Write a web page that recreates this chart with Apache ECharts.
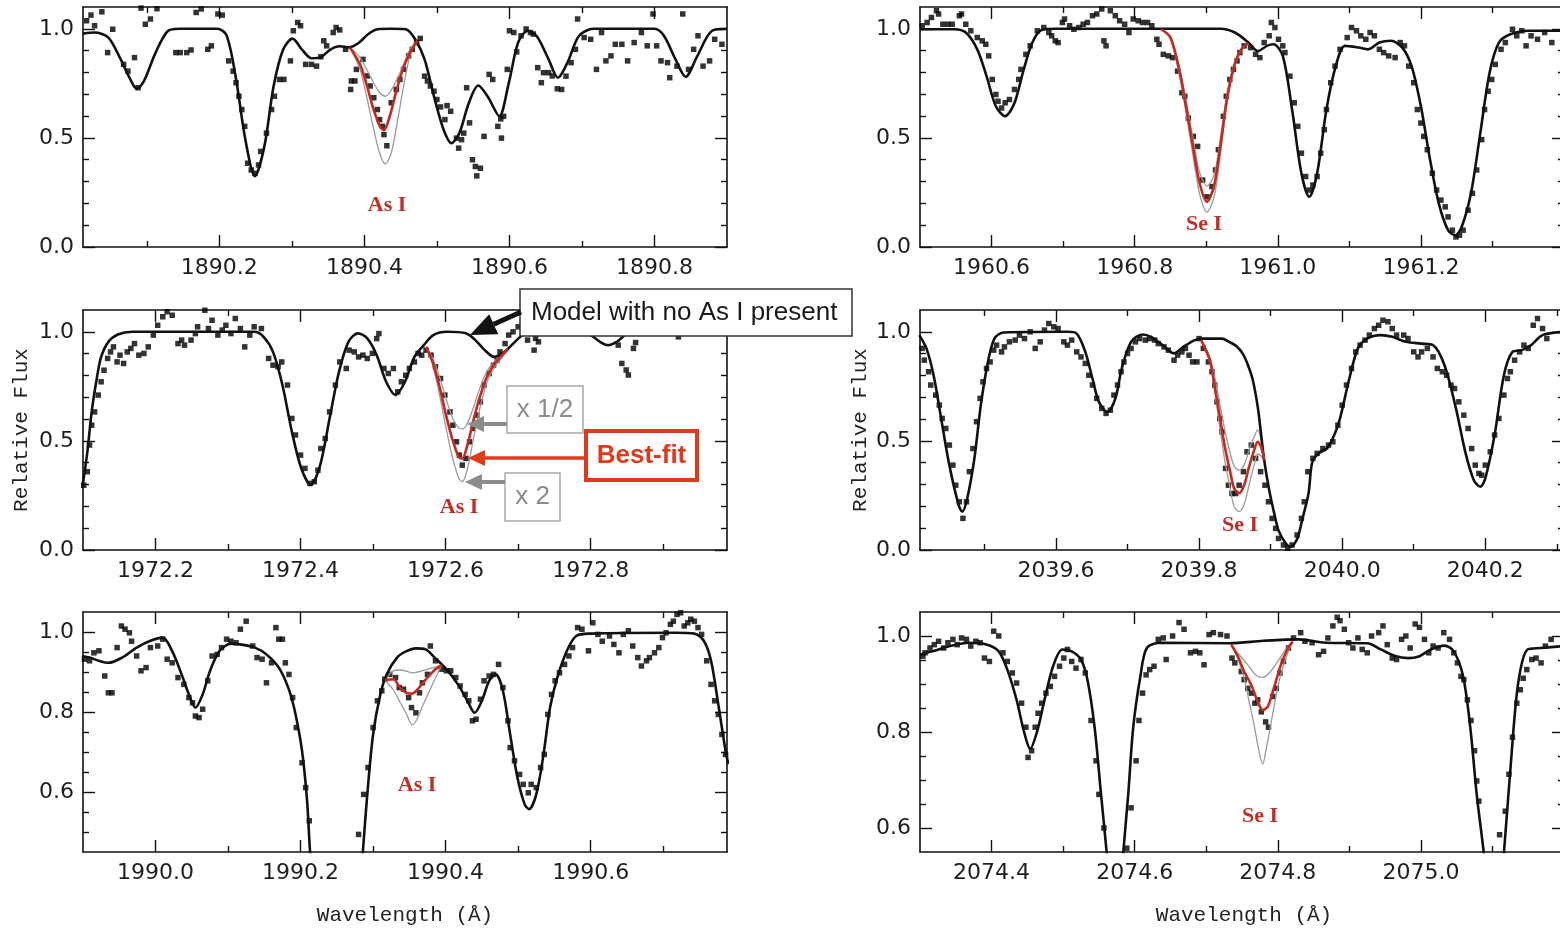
<!DOCTYPE html>
<html>
<head>
<meta charset="utf-8">
<script src="https://cdn.jsdelivr.net/npm/echarts@6/dist/echarts.min.js"></script>
<style>
html,body{margin:0;padding:0;background:#fff;}
#chart{width:1560px;height:929px;}
</style>
</head>
<body>
<div id="chart"></div>
<script>
// ---- panel 1 : As I 1890.43 ----
var p1Obs=[[1890.017,1.037],[1890.023,1.063],[1890.028,1.014],[1890.038,1.078],[1890.046,0.891],[1890.053,0.998],[1890.068,0.837],[1890.074,0.806],[1890.083,0.868],[1890.088,0.730],[1890.092,1.095],[1890.098,1.021],[1890.105,1.045],[1890.114,1.092],[1890.140,0.891],[1890.146,0.891],[1890.155,0.891],[1890.161,0.903],[1890.168,1.075],[1890.175,1.091],[1890.184,0.906],[1890.189,0.922],[1890.198,1.068],[1890.204,1.063],[1890.213,0.853],[1890.219,0.806],[1890.223,0.753],[1890.227,0.691],[1890.231,0.630],[1890.235,0.553],[1890.239,0.384],[1890.244,0.353],[1890.249,0.338],[1890.254,0.376],[1890.257,0.438],[1890.265,0.522],[1890.272,0.630],[1890.276,0.691],[1890.283,0.768],[1890.289,0.768],[1890.298,0.853],[1890.302,0.991],[1890.308,1.029],[1890.312,1.014],[1890.319,0.837],[1890.327,0.837],[1890.334,0.829],[1890.340,0.872],[1890.344,0.945],[1890.348,0.922],[1890.357,0.983],[1890.361,1.006],[1890.366,0.995],[1890.374,0.906],[1890.382,0.761],[1890.387,0.761],[1890.381,0.722],[1890.389,0.814],[1890.398,0.860],[1890.404,0.784],[1890.408,0.738],[1890.413,0.684],[1890.418,0.630],[1890.421,0.584],[1890.425,0.553],[1890.427,0.515],[1890.431,0.464],[1890.437,0.661],[1890.444,0.722],[1890.449,0.768],[1890.454,0.814],[1890.461,0.876],[1890.466,0.906],[1890.472,0.937],[1890.477,0.956],[1890.483,0.783],[1890.487,0.761],[1890.491,0.738],[1890.496,0.714],[1890.500,0.676],[1890.505,0.642],[1890.511,0.584],[1890.514,0.648],[1890.519,0.622],[1890.527,0.499],[1890.530,0.453],[1890.534,0.492],[1890.537,0.522],[1890.541,0.730],[1890.545,0.569],[1890.549,0.400],[1890.553,0.369],[1890.555,0.326],[1890.560,0.361],[1890.565,0.507],[1890.572,0.791],[1890.577,0.768],[1890.584,0.553],[1890.588,0.587],[1890.589,0.499],[1890.592,0.599],[1890.597,0.814],[1890.600,0.991],[1890.606,0.983],[1890.610,0.894],[1890.616,0.968],[1890.623,0.999],[1890.629,0.983],[1890.633,0.976],[1890.639,0.822],[1890.644,0.753],[1890.647,0.799],[1890.654,0.799],[1890.659,0.784],[1890.666,0.725],[1890.672,0.722],[1890.678,0.783],[1890.685,0.845],[1890.691,0.906],[1890.694,1.045],[1890.703,0.960],[1890.712,0.952],[1890.720,0.814],[1890.727,0.983],[1890.733,0.853],[1890.740,0.876],[1890.746,0.929],[1890.755,0.929],[1890.763,0.853],[1890.772,0.937],[1890.782,0.983],[1890.790,0.922],[1890.798,1.068],[1890.803,0.922],[1890.809,0.853],[1890.818,0.845],[1890.821,0.776],[1890.831,0.829],[1890.839,1.068],[1890.847,0.814],[1890.854,0.906],[1890.860,0.968],[1890.867,0.829],[1890.876,0.853],[1890.883,0.952],[1890.893,0.929]];
var p1Model=[[1890.012,0.978],[1890.028,0.983],[1890.047,0.96],[1890.064,0.86],[1890.077,0.77],[1890.086,0.725],[1890.096,0.76],[1890.112,0.89],[1890.129,0.99],[1890.145,1.0],[1890.197,1.0],[1890.210,0.97],[1890.223,0.77],[1890.236,0.49],[1890.249,0.325],[1890.262,0.46],[1890.275,0.74],[1890.288,0.905],[1890.301,0.955],[1890.314,0.905],[1890.327,0.865],[1890.340,0.87],[1890.353,0.905],[1890.366,0.92],[1890.379,0.915],[1890.392,0.935],[1890.405,0.975],[1890.418,0.998],[1890.437,1.0],[1890.457,0.998],[1890.470,0.952],[1890.483,0.86],[1890.496,0.69],[1890.509,0.54],[1890.520,0.476],[1890.531,0.522],[1890.544,0.66],[1890.557,0.74],[1890.570,0.69],[1890.586,0.6],[1890.599,0.75],[1890.612,0.937],[1890.625,0.99],[1890.638,0.965],[1890.654,0.86],[1890.667,0.776],[1890.680,0.845],[1890.696,0.968],[1890.716,1.0],[1890.800,1.0],[1890.813,0.968],[1890.829,0.86],[1890.843,0.78],[1890.859,0.875],[1890.879,0.99],[1890.900,1.0]];
var p1Fit=[[1890.380,0.915],[1890.394,0.837],[1890.403,0.745],[1890.412,0.638],[1890.421,0.556],[1890.427,0.535],[1890.435,0.60],[1890.444,0.714],[1890.453,0.814],[1890.463,0.891],[1890.473,0.945]];
var p1Half=[[1890.380,0.915],[1890.394,0.868],[1890.408,0.783],[1890.421,0.707],[1890.429,0.691],[1890.439,0.73],[1890.451,0.814],[1890.463,0.906],[1890.473,0.945]];
var p1Double=[[1890.380,0.915],[1890.394,0.814],[1890.403,0.691],[1890.412,0.553],[1890.421,0.43],[1890.429,0.381],[1890.437,0.43],[1890.446,0.584],[1890.455,0.753],[1890.464,0.891],[1890.473,0.945]];
var p1XMajor=[1890.2,1890.4,1890.6,1890.8];
var p1XMinor=[1890.1,1890.3,1890.5,1890.7];

// ---- panel 2 : Se I 1960.90 ----
var p2Obs=[[1960.503,1.014],[1960.510,1.029],[1960.516,1.052],[1960.523,1.083],[1960.526,1.068],[1960.532,1.021],[1960.539,1.021],[1960.545,1.021],[1960.555,1.060],[1960.558,1.068],[1960.564,1.021],[1960.571,0.991],[1960.580,0.960],[1960.587,0.945],[1960.592,0.929],[1960.596,0.876],[1960.601,0.768],[1960.606,0.699],[1960.609,0.668],[1960.614,0.637],[1960.619,0.661],[1960.625,0.676],[1960.632,0.722],[1960.638,0.768],[1960.641,0.814],[1960.648,0.883],[1960.654,0.922],[1960.664,0.991],[1960.673,1.006],[1960.680,0.983],[1960.684,0.968],[1960.689,0.945],[1960.693,0.937],[1960.699,1.029],[1960.702,1.045],[1960.709,1.014],[1960.715,0.998],[1960.722,1.006],[1960.728,1.021],[1960.734,1.029],[1960.741,1.060],[1960.747,1.068],[1960.754,1.091],[1960.757,0.945],[1960.760,0.922],[1960.766,1.083],[1960.773,1.060],[1960.779,1.037],[1960.786,1.021],[1960.792,0.983],[1960.798,1.045],[1960.805,1.037],[1960.811,1.029],[1960.818,1.029],[1960.824,1.014],[1960.831,0.952],[1960.834,0.929],[1960.840,0.883],[1960.847,0.876],[1960.853,0.868],[1960.860,0.806],[1960.866,0.707],[1960.870,0.691],[1960.875,0.591],[1960.882,0.507],[1960.888,0.461],[1960.895,0.307],[1960.901,0.230],[1960.908,0.277],[1960.913,0.353],[1960.917,0.446],[1960.924,0.599],[1960.928,0.691],[1960.933,0.768],[1960.938,0.814],[1960.943,0.853],[1960.947,0.891],[1960.953,0.922],[1960.962,0.914],[1960.969,0.883],[1960.975,0.868],[1960.981,0.937],[1960.988,0.968],[1960.991,1.029],[1960.996,1.006],[1961.001,0.952],[1961.007,0.922],[1961.010,0.891],[1961.017,0.783],[1961.023,0.661],[1961.028,0.553],[1961.033,0.430],[1961.039,0.323],[1961.044,0.261],[1961.049,0.284],[1961.055,0.323],[1961.060,0.430],[1961.065,0.538],[1961.068,0.630],[1961.074,0.753],[1961.080,0.829],[1961.087,0.906],[1961.097,0.960],[1961.103,1.006],[1961.110,0.991],[1961.116,0.968],[1961.123,0.952],[1961.129,0.983],[1961.135,0.968],[1961.142,0.906],[1961.148,0.891],[1961.155,0.876],[1961.164,0.868],[1961.171,0.937],[1961.177,0.922],[1961.183,0.829],[1961.190,0.753],[1961.195,0.630],[1961.200,0.568],[1961.204,0.507],[1961.209,0.446],[1961.216,0.338],[1961.222,0.261],[1961.228,0.215],[1961.234,0.184],[1961.238,0.138],[1961.244,0.077],[1961.249,0.046],[1961.254,0.054],[1961.259,0.077],[1961.266,0.169],[1961.272,0.246],[1961.278,0.353],[1961.285,0.492],[1961.289,0.630],[1961.294,0.714],[1961.299,0.768],[1961.304,0.837],[1961.312,0.906],[1961.318,0.937],[1961.328,0.998],[1961.334,0.968],[1961.341,0.991],[1961.347,0.922],[1961.354,0.968],[1961.363,0.952],[1961.373,0.983],[1961.383,0.937]];
var p2Model=[[1960.500,0.998],[1960.548,0.998],[1960.564,0.983],[1960.580,0.906],[1960.593,0.783],[1960.606,0.645],[1960.619,0.600],[1960.632,0.660],[1960.645,0.814],[1960.657,0.937],[1960.670,0.995],[1960.690,1.0],[1960.920,1.0],[1960.940,0.983],[1960.959,0.937],[1960.972,0.898],[1960.985,0.922],[1960.994,0.929],[1961.007,0.876],[1961.020,0.630],[1961.033,0.338],[1961.044,0.230],[1961.055,0.338],[1961.068,0.630],[1961.081,0.829],[1961.094,0.922],[1961.113,0.914],[1961.126,0.906],[1961.142,0.937],[1961.158,0.945],[1961.174,0.914],[1961.187,0.829],[1961.200,0.645],[1961.212,0.415],[1961.225,0.200],[1961.238,0.077],[1961.248,0.054],[1961.257,0.092],[1961.270,0.246],[1961.283,0.522],[1961.296,0.799],[1961.309,0.937],[1961.325,0.975],[1961.350,0.991],[1961.400,0.991]];
var p2Fit=[[1960.837,0.998],[1960.850,0.96],[1960.863,0.80],[1960.872,0.64],[1960.882,0.45],[1960.891,0.29],[1960.901,0.207],[1960.911,0.28],[1960.920,0.47],[1960.930,0.70],[1960.940,0.84],[1960.949,0.905],[1960.959,0.935]];
var p2Half=[[1960.837,0.998],[1960.850,0.965],[1960.863,0.82],[1960.872,0.67],[1960.882,0.49],[1960.891,0.34],[1960.901,0.28],[1960.911,0.33],[1960.920,0.50],[1960.930,0.72],[1960.940,0.85],[1960.949,0.91],[1960.959,0.935]];
var p2Double=[[1960.837,0.998],[1960.850,0.955],[1960.863,0.78],[1960.872,0.61],[1960.882,0.41],[1960.891,0.24],[1960.901,0.16],[1960.911,0.23],[1960.920,0.43],[1960.930,0.68],[1960.940,0.83],[1960.949,0.90],[1960.959,0.935]];
var p2XMajor=[1960.6,1960.8,1961.0,1961.2];
var p2XMinor=[1960.7,1960.9,1961.1,1961.3];

// ---- panel 3 : As I 1972.62 ----
var p3Obs=[[1972.101,0.297],[1972.106,0.359],[1972.109,0.481],[1972.112,0.572],[1972.116,0.633],[1972.121,0.710],[1972.125,0.771],[1972.129,0.824],[1972.134,0.878],[1972.138,0.908],[1972.142,0.931],[1972.147,0.862],[1972.151,0.893],[1972.156,0.855],[1972.161,0.908],[1972.166,0.924],[1972.171,0.946],[1972.177,0.893],[1972.184,0.901],[1972.190,0.931],[1972.197,0.985],[1972.203,1.030],[1972.210,1.069],[1972.216,1.092],[1972.223,1.076],[1972.231,0.946],[1972.236,0.962],[1972.240,0.939],[1972.249,0.962],[1972.255,0.992],[1972.258,1.023],[1972.268,1.099],[1972.273,1.015],[1972.278,1.053],[1972.286,0.985],[1972.292,1.008],[1972.297,1.030],[1972.304,0.992],[1972.310,1.061],[1972.317,1.015],[1972.323,0.931],[1972.330,0.985],[1972.336,1.023],[1972.346,1.015],[1972.356,0.878],[1972.362,0.847],[1972.369,0.840],[1972.374,0.862],[1972.382,0.756],[1972.388,0.603],[1972.393,0.527],[1972.400,0.435],[1972.406,0.374],[1972.413,0.305],[1972.419,0.313],[1972.424,0.366],[1972.428,0.465],[1972.434,0.511],[1972.440,0.633],[1972.448,0.756],[1972.454,0.862],[1972.463,0.832],[1972.467,0.916],[1972.474,0.908],[1972.480,0.885],[1972.486,0.893],[1972.492,0.878],[1972.499,0.901],[1972.505,0.969],[1972.508,0.992],[1972.515,0.832],[1972.521,0.809],[1972.528,0.832],[1972.534,0.725],[1972.539,0.771],[1972.545,0.801],[1972.550,0.832],[1972.557,0.862],[1972.562,0.901],[1972.567,0.893],[1972.573,0.916],[1972.580,0.893],[1972.586,0.840],[1972.593,0.786],[1972.599,0.710],[1972.606,0.633],[1972.610,0.572],[1972.615,0.496],[1972.619,0.435],[1972.623,0.389],[1972.628,0.420],[1972.633,0.496],[1972.638,0.557],[1972.643,0.618],[1972.648,0.679],[1972.653,0.756],[1972.660,0.809],[1972.666,0.847],[1972.671,0.870],[1972.675,0.908],[1972.682,0.946],[1972.687,0.985],[1972.693,1.000],[1972.700,1.023],[1972.706,1.030],[1972.713,0.962],[1972.722,0.916],[1972.724,0.970],[1972.728,0.954],[1972.838,0.939],[1972.843,0.855],[1972.849,0.825],[1972.852,0.802],[1972.859,0.924],[1972.862,0.951],[1972.921,0.977]];
var p3Model=[[1972.099,0.283],[1972.106,0.45],[1972.112,0.634],[1972.119,0.786],[1972.125,0.885],[1972.135,0.954],[1972.148,0.988],[1972.168,1.0],[1972.336,1.0],[1972.349,0.977],[1972.362,0.908],[1972.375,0.756],[1972.388,0.542],[1972.401,0.374],[1972.414,0.298],[1972.427,0.389],[1972.440,0.603],[1972.453,0.817],[1972.466,0.954],[1972.479,0.993],[1972.492,0.97],[1972.505,0.893],[1972.518,0.771],[1972.531,0.710],[1972.544,0.771],[1972.557,0.885],[1972.570,0.939],[1972.583,0.985],[1972.602,1.0],[1972.628,0.993],[1972.641,0.962],[1972.654,0.916],[1972.667,0.885],[1972.680,0.905],[1972.693,0.945],[1972.706,0.985],[1972.719,0.997],[1972.784,1.0],[1972.800,0.985],[1972.813,0.954],[1972.824,0.939],[1972.836,0.954],[1972.849,0.988],[1972.862,1.0],[1972.990,1.0]];
var p3Fit=[[1972.573,0.931],[1972.582,0.863],[1972.591,0.756],[1972.600,0.626],[1972.609,0.511],[1972.618,0.427],[1972.623,0.420],[1972.630,0.481],[1972.639,0.603],[1972.648,0.710],[1972.657,0.794],[1972.666,0.847],[1972.676,0.886],[1972.686,0.92]];
var p3Half=[[1972.573,0.931],[1972.582,0.88],[1972.591,0.80],[1972.600,0.70],[1972.609,0.61],[1972.618,0.56],[1972.623,0.555],[1972.630,0.58],[1972.639,0.66],[1972.648,0.75],[1972.657,0.82],[1972.666,0.86],[1972.676,0.89],[1972.686,0.92]];
var p3Double=[[1972.573,0.931],[1972.582,0.85],[1972.591,0.72],[1972.600,0.57],[1972.609,0.43],[1972.618,0.33],[1972.623,0.313],[1972.630,0.37],[1972.639,0.52],[1972.648,0.66],[1972.657,0.77],[1972.666,0.83],[1972.676,0.875],[1972.686,0.92]];
var p3XMajor=[1972.2,1972.4,1972.6,1972.8];
var p3XMinor=[1972.3,1972.5,1972.7,1972.9];

// ---- panel 4 : Se I 2039.85 ----
var p4Obs=[[2039.413,0.924],[2039.416,0.870],[2039.422,0.817],[2039.425,0.756],[2039.432,0.710],[2039.437,0.664],[2039.441,0.603],[2039.446,0.557],[2039.451,0.481],[2039.456,0.389],[2039.460,0.297],[2039.465,0.221],[2039.470,0.145],[2039.475,0.221],[2039.479,0.359],[2039.484,0.465],[2039.489,0.588],[2039.494,0.695],[2039.498,0.771],[2039.503,0.832],[2039.508,0.862],[2039.513,0.916],[2039.517,0.939],[2039.524,0.908],[2039.528,0.931],[2039.535,0.954],[2039.543,0.962],[2039.549,0.985],[2039.556,0.969],[2039.564,1.000],[2039.571,0.924],[2039.578,0.954],[2039.584,1.008],[2039.590,1.038],[2039.597,1.023],[2039.603,1.015],[2039.611,0.954],[2039.616,0.939],[2039.622,0.962],[2039.629,0.908],[2039.635,0.885],[2039.641,0.855],[2039.646,0.801],[2039.651,0.756],[2039.657,0.695],[2039.664,0.649],[2039.670,0.626],[2039.676,0.641],[2039.681,0.710],[2039.686,0.756],[2039.691,0.817],[2039.695,0.862],[2039.700,0.901],[2039.705,0.924],[2039.711,0.954],[2039.717,0.969],[2039.725,0.962],[2039.731,0.969],[2039.738,0.962],[2039.743,0.946],[2039.751,0.931],[2039.757,0.916],[2039.765,0.870],[2039.770,0.893],[2039.776,0.908],[2039.781,0.924],[2039.786,0.893],[2039.791,0.862],[2039.797,0.862],[2039.800,0.969],[2039.806,0.924],[2039.813,0.862],[2039.818,0.817],[2039.822,0.756],[2039.825,0.679],[2039.829,0.603],[2039.832,0.542],[2039.837,0.374],[2039.841,0.297],[2039.846,0.259],[2039.851,0.259],[2039.856,0.297],[2039.862,0.359],[2039.867,0.450],[2039.873,0.481],[2039.879,0.420],[2039.886,0.359],[2039.892,0.297],[2039.897,0.221],[2039.902,0.145],[2039.907,0.099],[2039.911,0.053],[2039.918,0.023],[2039.924,0.008],[2039.930,0.023],[2039.937,0.069],[2039.943,0.145],[2039.947,0.221],[2039.952,0.359],[2039.959,0.420],[2039.965,0.443],[2039.973,0.465],[2039.981,0.481],[2039.987,0.496],[2039.994,0.572],[2040.000,0.664],[2040.006,0.756],[2040.013,0.832],[2040.019,0.908],[2040.025,0.939],[2040.032,0.962],[2040.038,0.985],[2040.045,1.015],[2040.051,1.030],[2040.057,1.053],[2040.064,1.046],[2040.070,1.015],[2040.076,0.985],[2040.086,0.985],[2040.092,0.969],[2040.100,0.908],[2040.106,0.885],[2040.111,0.908],[2040.119,0.924],[2040.127,0.885],[2040.133,0.832],[2040.140,0.817],[2040.146,0.801],[2040.152,0.756],[2040.157,0.740],[2040.163,0.679],[2040.170,0.618],[2040.176,0.557],[2040.181,0.465],[2040.186,0.389],[2040.191,0.351],[2040.195,0.343],[2040.200,0.389],[2040.207,0.450],[2040.213,0.527],[2040.219,0.603],[2040.226,0.710],[2040.231,0.786],[2040.235,0.817],[2040.241,0.870],[2040.248,0.908],[2040.254,0.939],[2040.260,0.924],[2040.267,1.030],[2040.273,1.061],[2040.280,1.015],[2040.286,0.969]];
var p4Model=[[2039.409,0.985],[2039.419,0.924],[2039.429,0.801],[2039.438,0.633],[2039.451,0.389],[2039.464,0.206],[2039.469,0.175],[2039.476,0.236],[2039.486,0.420],[2039.495,0.664],[2039.505,0.863],[2039.514,0.969],[2039.527,0.997],[2039.616,1.0],[2039.629,0.992],[2039.641,0.908],[2039.651,0.786],[2039.660,0.679],[2039.672,0.633],[2039.683,0.694],[2039.692,0.832],[2039.705,0.954],[2039.721,0.988],[2039.733,0.977],[2039.749,0.939],[2039.765,0.901],[2039.778,0.931],[2039.794,0.962],[2039.806,0.969],[2039.832,0.969],[2039.842,0.954],[2039.852,0.935],[2039.861,0.900],[2039.868,0.850],[2039.875,0.780],[2039.882,0.656],[2039.886,0.550],[2039.891,0.412],[2039.898,0.275],[2039.905,0.168],[2039.911,0.090],[2039.921,0.031],[2039.928,0.015],[2039.937,0.050],[2039.944,0.137],[2039.953,0.260],[2039.958,0.400],[2039.967,0.443],[2039.979,0.466],[2039.990,0.535],[2039.997,0.603],[2040.010,0.786],[2040.022,0.924],[2040.035,0.969],[2040.054,0.985],[2040.070,0.977],[2040.089,0.954],[2040.111,0.946],[2040.127,0.939],[2040.143,0.847],[2040.159,0.649],[2040.172,0.450],[2040.184,0.320],[2040.193,0.290],[2040.200,0.328],[2040.213,0.527],[2040.226,0.801],[2040.238,0.908],[2040.251,0.916],[2040.264,0.939],[2040.280,0.985],[2040.310,1.0]];
var p4Fit=[[2039.803,0.962],[2039.815,0.870],[2039.822,0.748],[2039.829,0.611],[2039.836,0.473],[2039.843,0.366],[2039.849,0.283],[2039.856,0.260],[2039.863,0.298],[2039.870,0.382],[2039.877,0.458],[2039.882,0.496],[2039.887,0.47],[2039.891,0.412]];
var p4Half=[[2039.803,0.962],[2039.815,0.885],[2039.822,0.79],[2039.829,0.67],[2039.836,0.55],[2039.843,0.45],[2039.849,0.385],[2039.856,0.366],[2039.863,0.39],[2039.870,0.46],[2039.877,0.52],[2039.882,0.55],[2039.887,0.50],[2039.891,0.412]];
var p4Double=[[2039.803,0.962],[2039.815,0.86],[2039.822,0.72],[2039.829,0.56],[2039.836,0.41],[2039.843,0.29],[2039.849,0.20],[2039.856,0.176],[2039.863,0.21],[2039.870,0.30],[2039.877,0.39],[2039.882,0.44],[2039.887,0.43],[2039.891,0.412]];
var p4XMajor=[2039.6,2039.8,2040.0,2040.2];
var p4XMinor=[2039.5,2039.7,2039.9,2040.1,2040.3];

// ---- panel 5 : As I 1990.35 ----
var p5Obs=[[1989.902,0.932],[1989.909,0.928],[1989.915,0.948],[1989.922,0.953],[1989.930,0.890],[1989.935,0.848],[1989.940,0.848],[1989.947,0.961],[1989.953,1.015],[1989.958,1.007],[1989.964,0.998],[1989.967,0.977],[1989.974,0.940],[1989.980,0.903],[1989.987,0.911],[1989.993,0.961],[1990.003,0.965],[1990.010,0.982],[1990.016,0.932],[1990.023,0.923],[1990.031,0.886],[1990.039,0.869],[1990.046,0.836],[1990.051,0.823],[1990.055,0.790],[1990.060,0.786],[1990.065,0.807],[1990.072,0.878],[1990.078,0.940],[1990.085,0.944],[1990.091,0.961],[1990.098,0.982],[1990.104,0.977],[1990.111,0.973],[1990.117,1.007],[1990.125,1.027],[1990.134,0.965],[1990.140,0.936],[1990.147,0.932],[1990.153,0.873],[1990.160,0.923],[1990.166,1.011],[1990.170,0.982],[1990.175,0.982],[1990.179,0.923],[1990.184,0.894],[1990.189,0.836],[1990.194,0.761],[1990.202,0.673],[1990.207,0.611],[1990.212,0.528],[1990.280,0.494],[1990.287,0.594],[1990.293,0.661],[1990.300,0.761],[1990.306,0.828],[1990.312,0.853],[1990.316,0.882],[1990.323,0.894],[1990.331,0.886],[1990.336,0.861],[1990.342,0.857],[1990.349,0.836],[1990.353,0.811],[1990.359,0.798],[1990.364,0.848],[1990.368,0.873],[1990.375,0.894],[1990.379,0.965],[1990.386,0.928],[1990.394,0.907],[1990.401,0.903],[1990.407,0.903],[1990.414,0.886],[1990.420,0.865],[1990.427,0.844],[1990.432,0.828],[1990.437,0.778],[1990.442,0.782],[1990.448,0.832],[1990.453,0.878],[1990.460,0.890],[1990.466,0.894],[1990.473,0.919],[1990.479,0.861],[1990.486,0.778],[1990.489,0.711],[1990.495,0.678],[1990.502,0.644],[1990.507,0.619],[1990.514,0.598],[1990.518,0.619],[1990.525,0.611],[1990.531,0.661],[1990.536,0.694],[1990.541,0.794],[1990.546,0.844],[1990.551,0.878],[1990.557,0.898],[1990.564,0.919],[1990.570,0.940],[1990.575,0.961],[1990.582,1.011],[1990.588,1.007],[1990.597,0.953],[1990.603,1.023],[1990.610,0.994],[1990.616,0.977],[1990.626,0.990],[1990.632,0.969],[1990.639,0.948],[1990.645,0.994],[1990.652,1.003],[1990.658,0.965],[1990.665,0.936],[1990.670,0.915],[1990.677,0.928],[1990.681,0.936],[1990.688,0.948],[1990.694,0.961],[1990.699,0.986],[1990.704,0.998],[1990.710,1.019],[1990.714,1.027],[1990.719,1.044],[1990.724,1.048],[1990.729,1.015],[1990.734,1.023],[1990.738,1.032],[1990.743,1.027],[1990.748,1.011],[1990.753,0.994],[1990.760,0.928],[1990.766,0.869],[1990.771,0.828],[1990.776,0.794],[1990.781,0.744],[1990.786,0.694]];
var p5Model=[[1989.899,0.940],[1989.909,0.936],[1989.922,0.928],[1989.935,0.923],[1989.954,0.936],[1989.974,0.961],[1989.993,0.978],[1990.010,0.986],[1990.023,0.952],[1990.036,0.894],[1990.046,0.844],[1990.055,0.811],[1990.065,0.844],[1990.075,0.902],[1990.088,0.952],[1990.104,0.971],[1990.117,0.969],[1990.137,0.961],[1990.153,0.944],[1990.170,0.911],[1990.183,0.861],[1990.192,0.803],[1990.202,0.703],[1990.209,0.578],[1990.213,0.453],[1990.220,0.30],[1990.250,0.15],[1990.280,0.30],[1990.286,0.453],[1990.292,0.594],[1990.300,0.744],[1990.310,0.844],[1990.319,0.895],[1990.333,0.936],[1990.346,0.952],[1990.359,0.959],[1990.372,0.957],[1990.385,0.936],[1990.401,0.907],[1990.417,0.869],[1990.430,0.828],[1990.440,0.798],[1990.450,0.828],[1990.460,0.878],[1990.469,0.894],[1990.479,0.853],[1990.489,0.744],[1990.499,0.636],[1990.509,0.569],[1990.515,0.557],[1990.525,0.594],[1990.535,0.694],[1990.544,0.811],[1990.554,0.886],[1990.567,0.952],[1990.580,0.990],[1990.600,0.996],[1990.717,0.998],[1990.743,0.996],[1990.756,0.978],[1990.766,0.928],[1990.776,0.819],[1990.786,0.703],[1990.790,0.670]];
var p5Fit=[[1990.316,0.88],[1990.328,0.882],[1990.337,0.861],[1990.346,0.848],[1990.354,0.846],[1990.360,0.854],[1990.367,0.869],[1990.377,0.890],[1990.386,0.907],[1990.395,0.918]];
var p5Half=[[1990.316,0.88],[1990.328,0.903],[1990.337,0.905],[1990.346,0.902],[1990.354,0.898],[1990.360,0.899],[1990.367,0.903],[1990.377,0.908],[1990.386,0.912],[1990.395,0.918]];
var p5Double=[[1990.316,0.88],[1990.328,0.855],[1990.337,0.825],[1990.346,0.795],[1990.354,0.768],[1990.360,0.78],[1990.367,0.81],[1990.377,0.85],[1990.386,0.885],[1990.395,0.918]];
var p5XMajor=[1990.0,1990.2,1990.4,1990.6];
var p5XMinor=[1990.1,1990.3,1990.5,1990.7];

// ---- panel 6 : Se I 2074.78 ----
var p6Obs=[[2074.304,0.958],[2074.307,0.965],[2074.314,0.975],[2074.320,0.982],[2074.326,0.989],[2074.333,0.975],[2074.339,0.986],[2074.346,0.993],[2074.352,0.982],[2074.358,0.996],[2074.365,0.993],[2074.371,0.979],[2074.378,0.989],[2074.384,0.986],[2074.390,0.954],[2074.397,0.947],[2074.403,1.010],[2074.410,1.000],[2074.416,0.965],[2074.422,0.947],[2074.429,0.923],[2074.435,0.902],[2074.442,0.860],[2074.448,0.810],[2074.451,0.747],[2074.456,0.761],[2074.461,0.810],[2074.465,0.839],[2074.470,0.860],[2074.476,0.881],[2074.482,0.895],[2074.488,0.916],[2074.495,0.937],[2074.501,0.954],[2074.506,0.972],[2074.512,0.947],[2074.518,0.933],[2074.525,0.951],[2074.531,0.923],[2074.539,0.824],[2074.546,0.740],[2074.550,0.670],[2074.557,0.600],[2074.589,0.558],[2074.595,0.642],[2074.602,0.740],[2074.606,0.824],[2074.611,0.881],[2074.616,0.919],[2074.621,0.930],[2074.627,0.937],[2074.633,0.993],[2074.640,0.996],[2074.644,0.951],[2074.653,1.000],[2074.662,1.028],[2074.669,1.014],[2074.678,0.965],[2074.685,0.968],[2074.691,0.965],[2074.697,0.940],[2074.704,1.003],[2074.710,1.007],[2074.720,1.003],[2074.729,1.000],[2074.736,0.954],[2074.740,0.944],[2074.749,0.926],[2074.753,0.909],[2074.758,0.891],[2074.763,0.881],[2074.768,0.860],[2074.772,0.867],[2074.777,0.842],[2074.783,0.821],[2074.787,0.810],[2074.793,0.874],[2074.798,0.891],[2074.803,0.923],[2074.808,0.947],[2074.815,0.975],[2074.822,0.996],[2074.832,1.007],[2074.838,0.989],[2074.848,0.986],[2074.857,0.961],[2074.864,0.968],[2074.870,0.996],[2074.877,1.021],[2074.883,1.039],[2074.887,1.032],[2074.893,1.014],[2074.899,0.986],[2074.905,0.975],[2074.912,0.996],[2074.918,0.972],[2074.925,0.965],[2074.931,1.000],[2074.941,1.007],[2074.947,1.021],[2074.953,0.982],[2074.960,0.954],[2074.966,0.951],[2074.973,0.993],[2074.979,1.000],[2074.985,0.975],[2074.992,1.025],[2074.998,1.018],[2075.005,0.993],[2075.011,0.965],[2075.017,0.979],[2075.024,0.975],[2075.032,1.007],[2075.040,0.993],[2075.046,0.965],[2075.051,0.944],[2075.056,0.916],[2075.060,0.909],[2075.065,0.867],[2075.070,0.824],[2075.075,0.761],[2075.078,0.698],[2075.081,0.656],[2075.110,0.586],[2075.118,0.635],[2075.123,0.712],[2075.128,0.789],[2075.134,0.860],[2075.139,0.888],[2075.143,0.912],[2075.148,0.930],[2075.155,0.951],[2075.161,0.954],[2075.168,0.944],[2075.174,0.979],[2075.182,0.993]];
var p6Model=[[2074.300,0.961],[2074.317,0.968],[2074.342,0.979],[2074.368,0.986],[2074.394,0.982],[2074.410,0.968],[2074.422,0.930],[2074.435,0.867],[2074.445,0.803],[2074.454,0.765],[2074.464,0.803],[2074.474,0.867],[2074.486,0.937],[2074.499,0.972],[2074.512,0.968],[2074.525,0.951],[2074.534,0.909],[2074.544,0.810],[2074.553,0.670],[2074.561,0.547],[2074.566,0.45],[2074.573,0.38],[2074.580,0.45],[2074.584,0.547],[2074.591,0.670],[2074.598,0.810],[2074.608,0.916],[2074.617,0.975],[2074.637,0.986],[2074.733,0.985],[2074.780,0.99],[2074.829,0.993],[2074.867,0.986],[2074.925,0.985],[2074.944,0.972],[2074.963,0.959],[2074.982,0.954],[2074.998,0.958],[2075.014,0.972],[2075.033,0.980],[2075.046,0.968],[2075.059,0.916],[2075.069,0.810],[2075.078,0.670],[2075.088,0.547],[2075.094,0.45],[2075.102,0.38],[2075.110,0.45],[2075.116,0.547],[2075.126,0.740],[2075.136,0.902],[2075.149,0.972],[2075.168,0.975],[2075.200,0.979]];
var p6Fit=[[2074.735,0.982],[2074.744,0.958],[2074.753,0.926],[2074.763,0.898],[2074.772,0.863],[2074.779,0.846],[2074.786,0.853],[2074.793,0.884],[2074.800,0.919],[2074.807,0.951],[2074.816,0.979],[2074.821,0.988]];
var p6Half=[[2074.735,0.982],[2074.746,0.961],[2074.758,0.940],[2074.769,0.919],[2074.779,0.914],[2074.788,0.923],[2074.800,0.947],[2074.811,0.972],[2074.821,0.988]];
var p6Double=[[2074.735,0.982],[2074.744,0.954],[2074.753,0.912],[2074.760,0.863],[2074.767,0.814],[2074.774,0.758],[2074.779,0.733],[2074.783,0.758],[2074.790,0.814],[2074.797,0.870],[2074.804,0.919],[2074.814,0.965],[2074.821,0.988]];
var p6XMajor=[2074.4,2074.6,2074.8,2075.0];
var p6XMinor=[2074.5,2074.7,2074.9,2075.1];

// y ticks
var yMajorFull=[0,0.5,1.0];
var yMinorFull=[0.1,0.2,0.3,0.4,0.6,0.7,0.8,0.9];
var yMajorLow=[0.6,0.8,1.0];
var yMinorLow=[0.5,0.55,0.65,0.7,0.75,0.85,0.9,0.95];
var yMinorLow2=[0.65,0.7,0.75,0.85,0.9,0.95];

var elemLabels=['As I','Se I','As I','Se I','As I','Se I'];

var RED='#c42a1e', GREY='#9a9a9a', INK='#111';
var TICKFONT='"DejaVu Sans", sans-serif';

var panels=[
  {left:83, top:7,   xr:[1890.012,1890.9], yr:[0,1.1],   xMaj:p1XMajor,xMin:p1XMinor,yMaj:yMajorFull,yMin:yMinorFull,obs:p1Obs,model:p1Model,fit:p1Fit,half:p1Half,dbl:p1Double},
  {left:920,top:7,   xr:[1960.5,1961.4],   yr:[0,1.1],   xMaj:p2XMajor,xMin:p2XMinor,yMaj:yMajorFull,yMin:yMinorFull,obs:p2Obs,model:p2Model,fit:p2Fit,half:p2Half,dbl:p2Double},
  {left:83, top:310, xr:[1972.1,1972.988], yr:[0,1.1],   xMaj:p3XMajor,xMin:p3XMinor,yMaj:yMajorFull,yMin:yMinorFull,obs:p3Obs,model:p3Model,fit:p3Fit,half:p3Half,dbl:p3Double},
  {left:920,top:310, xr:[2039.41,2040.31], yr:[0,1.1],   xMaj:p4XMajor,xMin:p4XMinor,yMaj:yMajorFull,yMin:yMinorFull,obs:p4Obs,model:p4Model,fit:p4Fit,half:p4Half,dbl:p4Double},
  {left:83, top:612, xr:[1989.9,1990.788], yr:[0.45,1.05],xMaj:p5XMajor,xMin:p5XMinor,yMaj:yMajorLow,yMin:yMinorLow,obs:p5Obs,model:p5Model,fit:p5Fit,half:p5Half,dbl:p5Double},
  {left:920,top:612, xr:[2074.3,2075.2],   yr:[0.55,1.05],xMaj:p6XMajor,xMin:p6XMinor,yMaj:yMajorLow,yMin:yMinorLow2,obs:p6Obs,model:p6Model,fit:p6Fit,half:p6Half,dbl:p6Double}
];

function fmt1(v){ return Number(v).toFixed(1); }

function makeAxis(gi, range, pos, ticks, len, line, labels, margin){
  return {
    gridIndex:gi, type:'value', position:pos, min:range[0], max:range[1],
    axisLine:{show:line, onZero:false, lineStyle:{color:INK, width:1.6}},
    axisTick:{show:true, inside:true, length:len, customValues:ticks, lineStyle:{color:INK, width:1.4}},
    axisLabel: labels ? {show:true, customValues:labels, formatter:fmt1, fontFamily:TICKFONT, fontSize:22, color:'#1e1e1e', margin:margin} : {show:false},
    splitLine:{show:false}
  };
}

var grids=[], xAxes=[], yAxes=[], series=[];
panels.forEach(function(p, gi){
  grids.push({left:p.left, top:p.top, width:644, height:240, containLabel:false, outerBoundsMode:'none'});
  var xi=xAxes.length, yi=yAxes.length;
  xAxes.push(makeAxis(gi,p.xr,'bottom',p.xMaj,12,true,p.xMaj,10));
  xAxes.push(makeAxis(gi,p.xr,'bottom',p.xMin,6,false,null));
  xAxes.push(makeAxis(gi,p.xr,'top',p.xMaj,12,true,null));
  xAxes.push(makeAxis(gi,p.xr,'top',p.xMin,6,false,null));
  yAxes.push(makeAxis(gi,p.yr,'left',p.yMaj,12,true,p.yMaj,9));
  yAxes.push(makeAxis(gi,p.yr,'left',p.yMin,6,false,null));
  yAxes.push(makeAxis(gi,p.yr,'right',p.yMaj,12,true,null));
  yAxes.push(makeAxis(gi,p.yr,'right',p.yMin,6,false,null));

  series.push({type:'scatter', xAxisIndex:xi, yAxisIndex:yi, data:p.obs, symbol:'rect', symbolSize:5.5,
    itemStyle:{color:'#000'}, clip:true, silent:true, z:2});
  series.push({type:'line', xAxisIndex:xi, yAxisIndex:yi, data:p.half, showSymbol:false, smooth:0.3, clip:true,
    lineStyle:{color:GREY, width:1.3}, silent:true, z:3});
  series.push({type:'line', xAxisIndex:xi, yAxisIndex:yi, data:p.dbl, showSymbol:false, smooth:0.3, clip:true,
    lineStyle:{color:GREY, width:1.3}, silent:true, z:3});
  series.push({type:'line', xAxisIndex:xi, yAxisIndex:yi, data:p.model, showSymbol:false, smooth:0.3, clip:true,
    lineStyle:{color:INK, width:2.6}, silent:true, z:4});
  series.push({type:'line', xAxisIndex:xi, yAxisIndex:yi, data:p.fit, showSymbol:false, smooth:0.3, clip:true,
    lineStyle:{color:RED, width:2.6}, silent:true, z:5});
});

// element labels, axis names and callouts
var labelPos=[[387,205],[1204,224],[459,507],[1240,525],[417,785],[1260,816]];
var gfx=[];
function txt(x,y,s,font,fill,rot){
  return {type:'text', x:x, y:y, rotation:rot||0, z:100,
    style:{text:s, font:font, fill:fill, align:'center', verticalAlign:'middle', textAlign:'center', textVerticalAlign:'middle'}};
}
elemLabels.forEach(function(s,i){
  gfx.push(txt(labelPos[i][0],labelPos[i][1],s,'bold 22px "Liberation Serif", serif','#bf2f26'));
});
var MONO='21px "Liberation Mono", "DejaVu Sans Mono", monospace';
gfx.push(txt(21,430,'Relative Flux',MONO,'#222',Math.PI/2));
gfx.push(txt(860,430,'Relative Flux',MONO,'#222',Math.PI/2));
gfx.push(txt(405,915,'Wavelength (\u00c5)',MONO,'#222'));
gfx.push(txt(1244,915,'Wavelength (\u00c5)',MONO,'#222'));

function arrow(x1,y1,x2,y2,color,w,head,half){
  var dx=x1-x2, dy=y1-y2, L=Math.sqrt(dx*dx+dy*dy), ux=dx/L, uy=dy/L;
  var bx=x2+ux*head, by=y2+uy*head, px=-uy, py=ux;
  gfx.push({type:'line', z:101, shape:{x1:x1,y1:y1,x2:bx,y2:by}, style:{stroke:color, lineWidth:w}});
  gfx.push({type:'polygon', z:101, shape:{points:[[x2,y2],[bx+px*half,by+py*half],[bx-px*half,by-py*half]]}, style:{fill:color}});
}
var SANS='"Liberation Sans", Arial, sans-serif';
gfx.push({type:'rect', z:100, shape:{x:520,y:289,width:332,height:47}, style:{fill:'#fff', stroke:'#333', lineWidth:1.5}});
gfx.push({type:'text', z:101, x:531, y:313, style:{text:'Model with no As I present', font:'26px '+SANS, fill:'#1a1a1a', align:'left', verticalAlign:'middle', textAlign:'left', textVerticalAlign:'middle'}});
arrow(521,312,470,335,'#111',5,26,11);

gfx.push({type:'rect', z:100, shape:{x:507,y:386,width:76,height:47}, style:{fill:'#fff', stroke:'#a8a8a8', lineWidth:1.5}});
gfx.push(txt(545,410,'x 1/2','26px '+SANS,'#8c8c8c'));
arrow(507,424,467,424,'#8c8c8c',4,17,8);

gfx.push({type:'rect', z:100, shape:{x:586,y:431,width:111,height:49}, style:{fill:'#fff', stroke:'#e0391c', lineWidth:4}});
gfx.push(txt(641.5,456,'Best-fit','bold 26px '+SANS,'#e0391c'));
arrow(584,458,468,458,'#e0391c',3.5,17,8);

gfx.push({type:'rect', z:100, shape:{x:505,y:473,width:55,height:48}, style:{fill:'#fff', stroke:'#a8a8a8', lineWidth:1.5}});
gfx.push(txt(532.5,497,'x 2','26px '+SANS,'#8c8c8c'));
arrow(505,482,465,482,'#8c8c8c',4,17,8);

var chart=echarts.init(document.getElementById('chart'), null, {renderer:'canvas'});
chart.setOption({
  animation:false,
  backgroundColor:'#fff',
  grid:grids,
  xAxis:xAxes,
  yAxis:yAxes,
  series:series,
  graphic:{elements:gfx}
});
</script>
</body>
</html>
